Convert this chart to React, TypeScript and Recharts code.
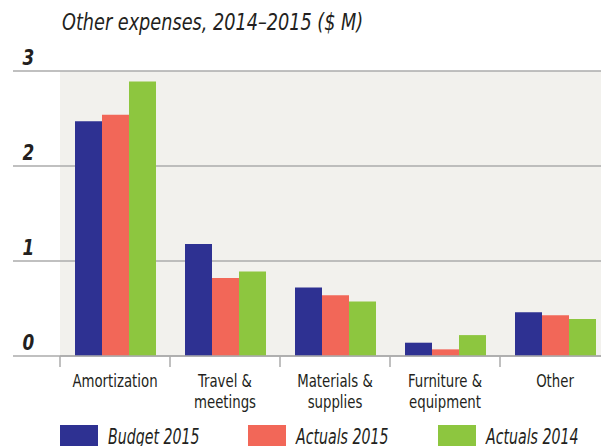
import React from 'react';
import { BarChart, Bar, XAxis, YAxis, CartesianGrid } from 'recharts';

const categories = ['Amortization', 'Travel &\nmeetings', 'Materials &\nsupplies', 'Furniture &\nequipment', 'Other'];
const budget2015 = [2.47, 1.18, 0.72, 0.14, 0.46];
const actuals2015 = [2.54, 0.82, 0.64, 0.07, 0.43];
const actuals2014 = [2.89, 0.89, 0.575, 0.22, 0.39];
const yTicks = [0, 1, 2, 3];

const series = [
  { key: 'budget2015', name: 'Budget 2015', color: '#2e3192' },
  { key: 'actuals2015', name: 'Actuals 2015', color: '#f26758' },
  { key: 'actuals2014', name: 'Actuals 2014', color: '#8dc63f' },
];

const data = categories.map((c, i) => ({
  category: c,
  budget2015: budget2015[i],
  actuals2015: actuals2015[i],
  actuals2014: actuals2014[i],
}));

const FONT = '"DejaVu Sans Condensed", "Liberation Sans Narrow", "DejaVu Sans", sans-serif';
const TEXT = '#231f20';
const GRID = '#ababab';

// text squeezed horizontally to mimic a condensed face
function NarrowText({ x, y, sx, anchor, children, ...rest }: any) {
  return (
    <text
      transform={`translate(${x},${y}) scale(${sx},1)`}
      textAnchor={anchor || 'start'}
      fontFamily={FONT}
      fill={TEXT}
      {...rest}
    >
      {children}
    </text>
  );
}

// y tick: short gridline stub left of the plot + bold italic label above it
function YTick(props: any) {
  const { x, y, payload } = props;
  return (
    <g>
      <line x1={13} x2={x} y1={y} y2={y} stroke={GRID} strokeWidth={1.5} />
      <NarrowText x={22.5} y={y - 6} sx={0.85} fontSize={22} fontWeight="bold" fontStyle="italic">
        {payload.value}
      </NarrowText>
    </g>
  );
}

// x tick: boundary tick mark on the left of each band + wrapped label
function XTick(props: any) {
  const { x, y, payload } = props;
  const half = payload.offset || 55;
  const lines = String(payload.value).split('\n');
  return (
    <g>
      <line x1={x - half} x2={x - half} y1={y} y2={y + 11} stroke={GRID} strokeWidth={1.5} />
      {lines.map((l, i) => (
        <NarrowText key={i} x={x} y={y + 31 + i * 21} sx={0.87} anchor="middle" fontSize={17}>
          {l}
        </NarrowText>
      ))}
    </g>
  );
}

export default function App() {
  return (
    <div style={{ position: 'absolute', left: 0, top: 0, width: 601, height: 446, overflow: 'hidden', background: '#fff' }}>
      <BarChart
        width={620}
        height={446}
        data={data}
        margin={{ top: 71, right: 10, left: 0, bottom: 30 }}
        barSize={27}
        barGap={0}
      >
        <CartesianGrid vertical={false} stroke={GRID} strokeWidth={1.5} fill="#f2f1ed" />
        <XAxis
          dataKey="category"
          height={60}
          tickSize={0}
          tickMargin={0}
          tickLine={false}
          axisLine={{ stroke: GRID, strokeWidth: 1.5 }}
          interval={0}
          tick={<XTick />}
        />
        <YAxis
          width={60}
          domain={[0, 3]}
          ticks={yTicks}
          tickSize={0}
          tickMargin={0}
          tickLine={false}
          axisLine={false}
          tick={<YTick />}
        />
        {series.map((s) => (
          <Bar key={s.key} dataKey={s.key} name={s.name} fill={s.color} isAnimationActive={false} />
        ))}
      </BarChart>
      <svg width={601} height={446} style={{ position: 'absolute', left: 0, top: 0, pointerEvents: 'none' }}>
        <NarrowText x={62} y={29.5} sx={0.855} fontSize={23} fontStyle="italic">
          Other expenses, 2014–2015 ($ M)
        </NarrowText>
        {series.map((s, i) => {
          const lx = [60, 248, 438][i];
          return (
            <g key={s.key}>
              <rect x={lx} y={425} width={38} height={22} fill={s.color} />
              <NarrowText x={lx + 48} y={444} sx={0.75} fontSize={21} fontStyle="italic">
                {s.name}
              </NarrowText>
            </g>
          );
        })}
      </svg>
    </div>
  );
}
